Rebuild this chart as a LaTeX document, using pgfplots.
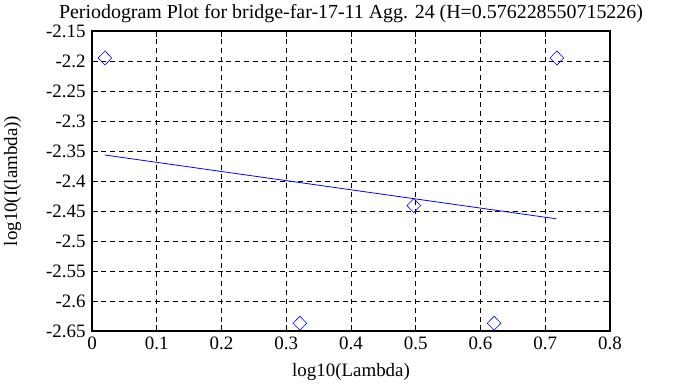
\documentclass[border=0pt]{standalone}
\usepackage{fontspec}
\setmainfont{Liberation Serif}
\usepackage{pgfplots}
\pgfplotsset{compat=1.18}
\begin{document}
\begin{tikzpicture}[x=1bp,y=1bp]
\begin{axis}[
  at={(0,0)}, anchor=south west,
  scale only axis, width=518bp, height=300bp,
  xmin=0, xmax=0.8, ymin=-2.65, ymax=-2.15,
  xtick={0,0.1,...,0.8}, ytick={-2.65,-2.6,...,-2.15},
  /pgf/number format/assume math mode=true,
  /pgf/number format/fixed,
  /pgf/number format/precision=2,
  tick label style={font=\fontsize{19}{20}\selectfont},
  yticklabel style={xshift=-3bp},
  xticklabel style={yshift=-2bp},
  label style={font=\fontsize{19}{20}\selectfont},
  title style={font=\fontsize{20}{21}\selectfont, yshift=-1bp},
  title={Periodogram Plot for bridge-far-17-11 Agg. 24 (H=0.576228550715226)},
  xlabel={log10(Lambda)}, ylabel={log10(I(lambda))},
  xlabel style={yshift=-7bp}, ylabel style={yshift=18bp},
  grid=major, major grid style={black, line width=0.7pt, dash pattern=on 5pt off 4pt},
  axis line style={line width=1.4pt},
  tick pos=both, tick align=inside,
  major tick length=6bp,
  every tick/.style={black, line width=0.8pt},
  clip=false,
]
\addplot[only marks, mark=diamond, mark size=7bp, blue, mark options={line width=0.6pt, xscale=1.3}] coordinates {
  (0.020,-2.195) (0.321,-2.637) (0.497,-2.441) (0.621,-2.637) (0.718,-2.195)
};
\addplot[blue, line width=0.8pt] coordinates {(0.020,-2.3567) (0.717,-2.463)};
\end{axis}
\useasboundingbox (-92,-56) rectangle (601,331);
\end{tikzpicture}
\end{document}
